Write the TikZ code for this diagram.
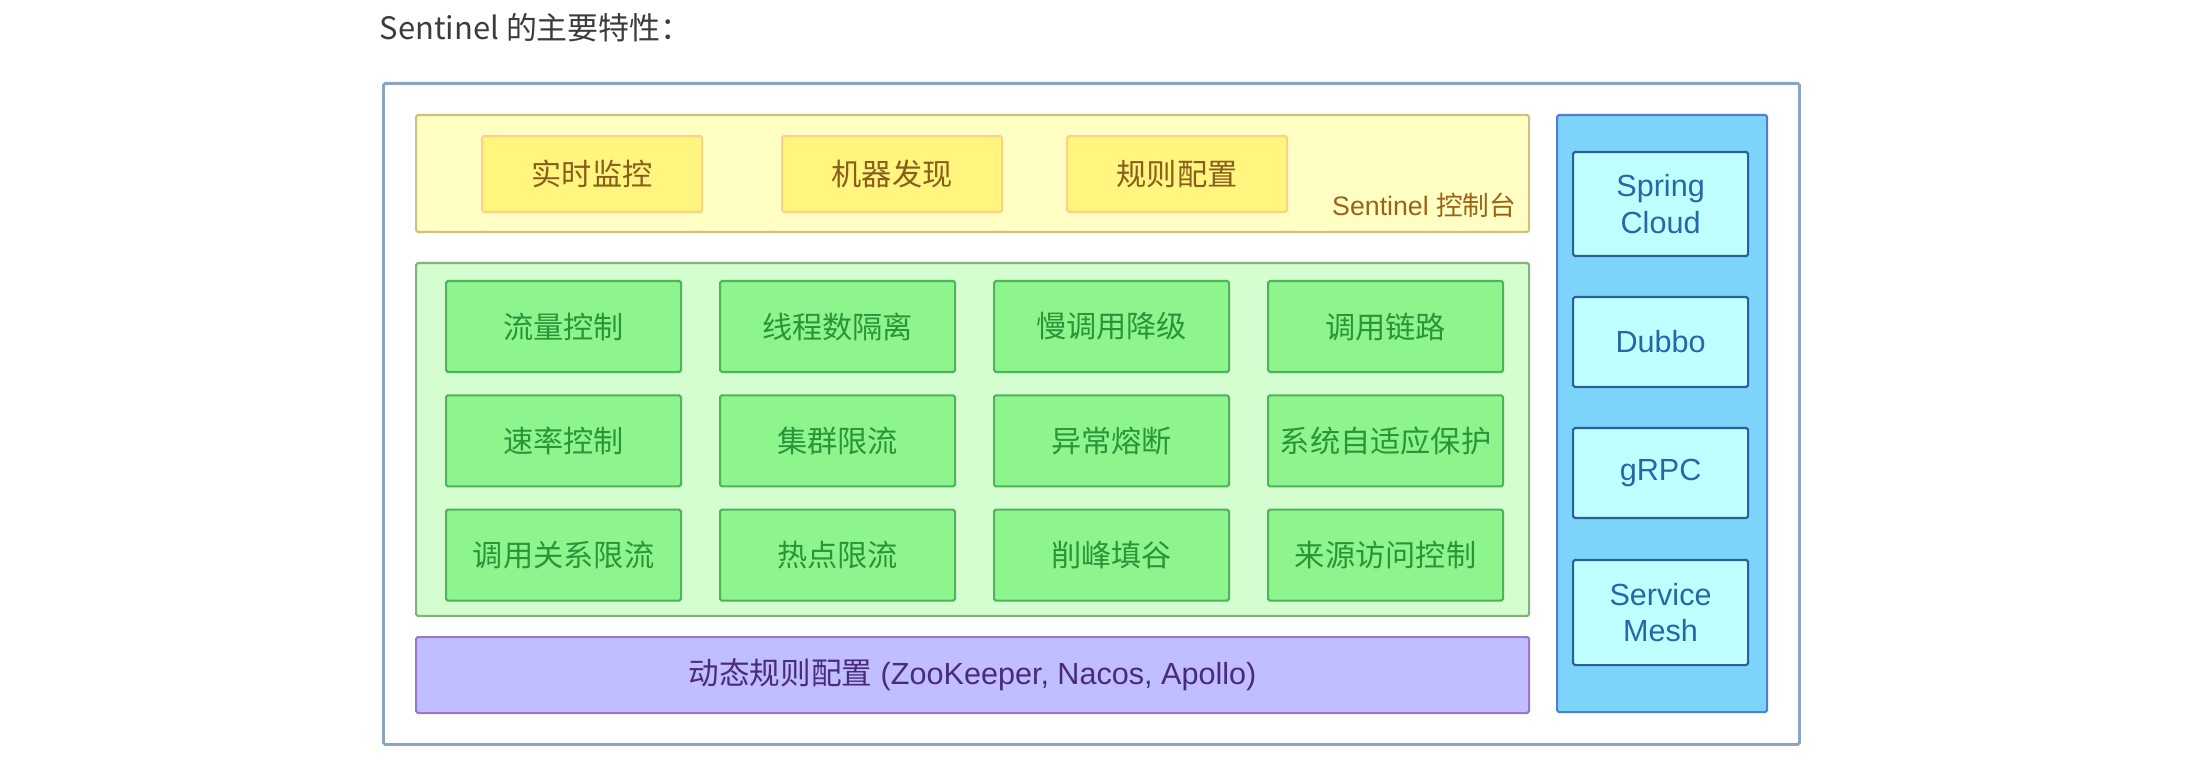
\documentclass[tikz,border=0pt]{standalone}
\usepackage{fontspec}
\setmainfont{Liberation Sans}
\newfontfamily\cjk{Noto Sans CJK SC}
\usetikzlibrary{positioning}

\definecolor{frameblue}{HTML}{8AA4C4}
\definecolor{yfill}{HTML}{FFFFC4}
\definecolor{ydraw}{HTML}{CCC27A}
\definecolor{yinfill}{HTML}{FFF57F}
\definecolor{yindraw}{HTML}{FFD08A}
\definecolor{ytext}{HTML}{8A5E1A}
\definecolor{gfill}{HTML}{D4FDD0}
\definecolor{gdraw}{HTML}{86B07E}
\definecolor{ginfill}{HTML}{8EF58E}
\definecolor{gindraw}{HTML}{4DB45A}
\definecolor{gtext}{HTML}{2A9438}
\definecolor{pfill}{HTML}{C0BEFF}
\definecolor{pdraw}{HTML}{9A78C8}
\definecolor{ptext}{HTML}{4A2A80}
\definecolor{bfill}{HTML}{7DD4FA}
\definecolor{bdraw}{HTML}{4F7FD0}
\definecolor{binfill}{HTML}{C0FFFF}
\definecolor{bindraw}{HTML}{2A5F9A}
\definecolor{btext}{HTML}{2468A8}
\definecolor{titlegray}{HTML}{3C3C3C}

\tikzset{
  box/.style={draw, anchor=north west, inner sep=0pt, line width=0.6pt, rounded corners=0.5pt},
  txt/.style={font=\fontsize{8.7pt}{10.4pt}\selectfont},
  cjktxt/.style={font=\cjk\fontsize{8.6pt}{10.4pt}\selectfont},
}

\begin{document}
\begin{tikzpicture}[x=1cm, y=-1cm]
    \useasboundingbox (0,0) rectangle (21.86,7.60);

    % Title
    \node[anchor=west, inner sep=0pt, text=titlegray, font=\cjk\fontsize{8.8pt}{10pt}\selectfont]
        (title) at (3.79,0.28) {Sentinel 的主要特性：};

    % Outer frame
    \node[box, draw=frameblue, line width=0.8pt, fill=white,
        minimum width=14.16cm, minimum height=6.61cm] (frame) at (3.82,0.82) {};

    % Sentinel console
    \node[box, draw=ydraw, fill=yfill, minimum width=11.13cm, minimum height=1.17cm]
        (console) at (4.15,1.14) {};
    \foreach \n/\x/\t in {monitor/4.81/实时监控, discover/7.81/机器发现, rules/10.66/规则配置} {
        \node[box, draw=yindraw, fill=yinfill, text=ytext, cjktxt,
            minimum width=2.20cm, minimum height=0.76cm] (\n) at (\x,1.35) {\t};
    }
    \node[anchor=east, inner sep=0pt, text=ytext!85!orange, font=\fontsize{7.6pt}{9pt}\selectfont]
        (consolelabel) at (15.17,2.05) {Sentinel {\cjk 控制台}};

    % Core features
    \node[box, draw=gdraw, fill=gfill, minimum width=11.13cm, minimum height=3.53cm]
        (core) at (4.15,2.62) {};
    \foreach \t [count=\i from 0] in {流量控制, 线程数隔离, 慢调用降级, 调用链路,
                                      速率控制, 集群限流, 异常熔断, 系统自适应保护,
                                      调用关系限流, 热点限流, 削峰填谷, 来源访问控制} {
        \pgfmathsetmacro{\cx}{4.45 + 2.74*mod(\i,4)}
        \pgfmathsetmacro{\cy}{2.80 + 1.143*div(\i,4)}
        \node[box, draw=gindraw, fill=ginfill, text=gtext, cjktxt,
            minimum width=2.35cm, minimum height=0.91cm] (cell-\i) at (\cx,\cy) {\t};
    }

    % Dynamic rules
    \node[box, draw=pdraw, fill=pfill, text=ptext, txt,
        minimum width=11.13cm, minimum height=0.76cm]
        (dynamic) at (4.15,6.36) {{\cjk 动态规则配置} (ZooKeeper, Nacos, Apollo)};

    % Frameworks
    \node[box, draw=bdraw, fill=bfill, minimum width=2.10cm, minimum height=5.97cm]
        (adapters) at (15.56,1.14) {};
    \foreach \n/\y/\h/\t in {spring/1.51/1.04/{Spring\\Cloud}, dubbo/2.96/0.90/Dubbo,
                             grpc/4.27/0.90/gRPC, mesh/5.59/1.05/{Service\\Mesh}} {
        \node[box, draw=bindraw, fill=binfill, text=btext, txt, align=center,
            minimum width=1.75cm, minimum height=\h cm] (\n) at (15.72,\y) {\t};
    }
\end{tikzpicture}
\end{document}
